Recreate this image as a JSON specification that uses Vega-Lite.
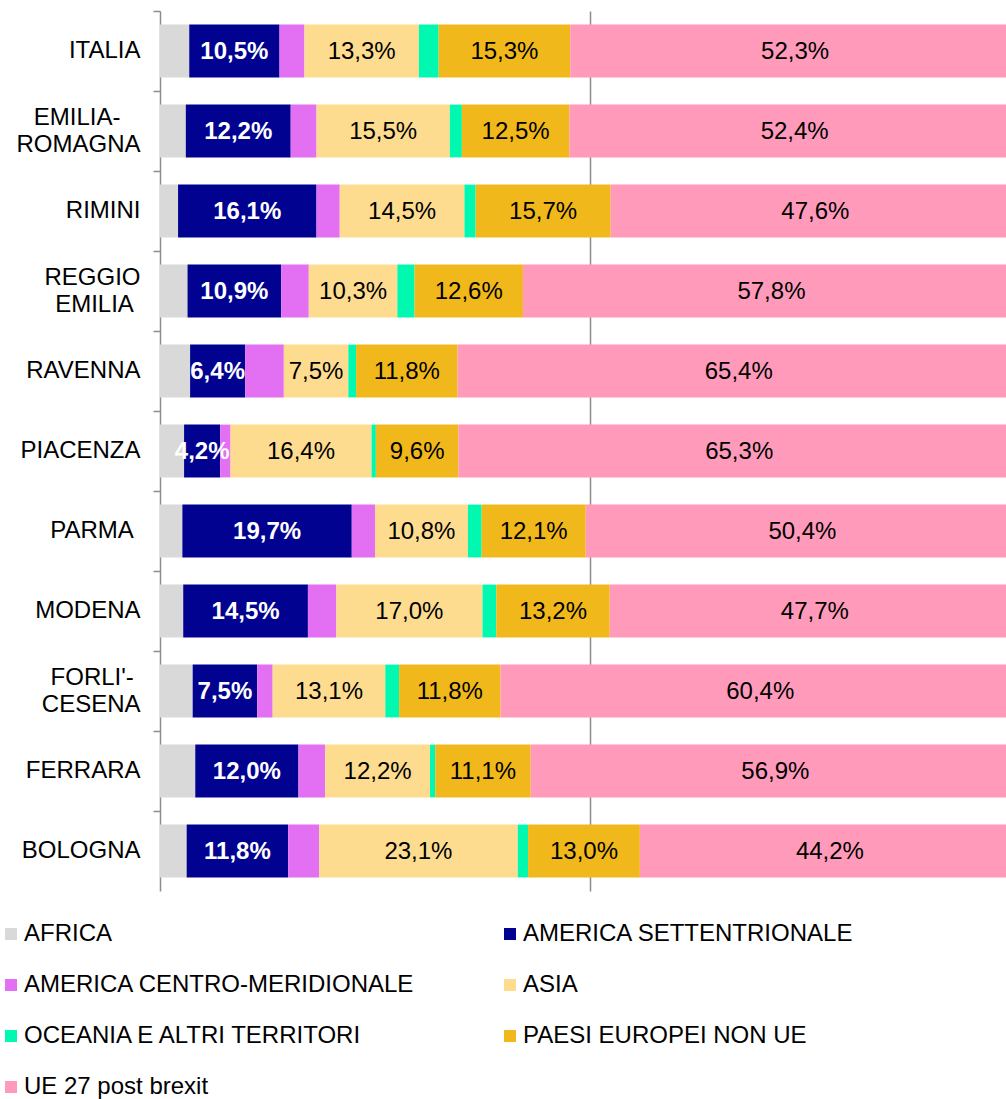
{
  "$schema": "https://vega.github.io/schema/vega-lite/v6.json",
  "autosize": {"type": "none"},
  "padding": {"left": 160, "top": 11, "right": 0, "bottom": 208},
  "width": 846,
  "height": 880,
  "background": "white",
  "config": {
    "font": "Liberation Sans",
    "view": {"stroke": null}
  },
  "data": {
    "values": [
      {"region": "ITALIA", "area": "AFRICA", "pct": 3.4},
      {"region": "ITALIA", "area": "AMERICA SETTENTRIONALE", "pct": 10.5},
      {"region": "ITALIA", "area": "AMERICA CENTRO-MERIDIONALE", "pct": 2.9},
      {"region": "ITALIA", "area": "ASIA", "pct": 13.3},
      {"region": "ITALIA", "area": "OCEANIA E ALTRI TERRITORI", "pct": 2.3},
      {"region": "ITALIA", "area": "PAESI EUROPEI NON UE", "pct": 15.3},
      {"region": "ITALIA", "area": "UE 27 post brexit", "pct": 52.3},

      {"region": "EMILIA-ROMAGNA", "area": "AFRICA", "pct": 3.0},
      {"region": "EMILIA-ROMAGNA", "area": "AMERICA SETTENTRIONALE", "pct": 12.2},
      {"region": "EMILIA-ROMAGNA", "area": "AMERICA CENTRO-MERIDIONALE", "pct": 3.0},
      {"region": "EMILIA-ROMAGNA", "area": "ASIA", "pct": 15.5},
      {"region": "EMILIA-ROMAGNA", "area": "OCEANIA E ALTRI TERRITORI", "pct": 1.4},
      {"region": "EMILIA-ROMAGNA", "area": "PAESI EUROPEI NON UE", "pct": 12.5},
      {"region": "EMILIA-ROMAGNA", "area": "UE 27 post brexit", "pct": 52.4},

      {"region": "RIMINI", "area": "AFRICA", "pct": 2.1},
      {"region": "RIMINI", "area": "AMERICA SETTENTRIONALE", "pct": 16.1},
      {"region": "RIMINI", "area": "AMERICA CENTRO-MERIDIONALE", "pct": 2.7},
      {"region": "RIMINI", "area": "ASIA", "pct": 14.5},
      {"region": "RIMINI", "area": "OCEANIA E ALTRI TERRITORI", "pct": 1.3},
      {"region": "RIMINI", "area": "PAESI EUROPEI NON UE", "pct": 15.7},
      {"region": "RIMINI", "area": "UE 27 post brexit", "pct": 47.6},

      {"region": "REGGIO EMILIA", "area": "AFRICA", "pct": 3.2},
      {"region": "REGGIO EMILIA", "area": "AMERICA SETTENTRIONALE", "pct": 10.9},
      {"region": "REGGIO EMILIA", "area": "AMERICA CENTRO-MERIDIONALE", "pct": 3.2},
      {"region": "REGGIO EMILIA", "area": "ASIA", "pct": 10.3},
      {"region": "REGGIO EMILIA", "area": "OCEANIA E ALTRI TERRITORI", "pct": 2.0},
      {"region": "REGGIO EMILIA", "area": "PAESI EUROPEI NON UE", "pct": 12.6},
      {"region": "REGGIO EMILIA", "area": "UE 27 post brexit", "pct": 57.8},

      {"region": "RAVENNA", "area": "AFRICA", "pct": 3.5},
      {"region": "RAVENNA", "area": "AMERICA SETTENTRIONALE", "pct": 6.4},
      {"region": "RAVENNA", "area": "AMERICA CENTRO-MERIDIONALE", "pct": 4.5},
      {"region": "RAVENNA", "area": "ASIA", "pct": 7.5},
      {"region": "RAVENNA", "area": "OCEANIA E ALTRI TERRITORI", "pct": 0.9},
      {"region": "RAVENNA", "area": "PAESI EUROPEI NON UE", "pct": 11.8},
      {"region": "RAVENNA", "area": "UE 27 post brexit", "pct": 65.4},

      {"region": "PIACENZA", "area": "AFRICA", "pct": 2.8},
      {"region": "PIACENZA", "area": "AMERICA SETTENTRIONALE", "pct": 4.2},
      {"region": "PIACENZA", "area": "AMERICA CENTRO-MERIDIONALE", "pct": 1.2},
      {"region": "PIACENZA", "area": "ASIA", "pct": 16.4},
      {"region": "PIACENZA", "area": "OCEANIA E ALTRI TERRITORI", "pct": 0.5},
      {"region": "PIACENZA", "area": "PAESI EUROPEI NON UE", "pct": 9.6},
      {"region": "PIACENZA", "area": "UE 27 post brexit", "pct": 65.3},

      {"region": "PARMA", "area": "AFRICA", "pct": 2.6},
      {"region": "PARMA", "area": "AMERICA SETTENTRIONALE", "pct": 19.7},
      {"region": "PARMA", "area": "AMERICA CENTRO-MERIDIONALE", "pct": 2.7},
      {"region": "PARMA", "area": "ASIA", "pct": 10.8},
      {"region": "PARMA", "area": "OCEANIA E ALTRI TERRITORI", "pct": 1.6},
      {"region": "PARMA", "area": "PAESI EUROPEI NON UE", "pct": 12.1},
      {"region": "PARMA", "area": "UE 27 post brexit", "pct": 50.4},

      {"region": "MODENA", "area": "AFRICA", "pct": 2.7},
      {"region": "MODENA", "area": "AMERICA SETTENTRIONALE", "pct": 14.5},
      {"region": "MODENA", "area": "AMERICA CENTRO-MERIDIONALE", "pct": 3.3},
      {"region": "MODENA", "area": "ASIA", "pct": 17.0},
      {"region": "MODENA", "area": "OCEANIA E ALTRI TERRITORI", "pct": 1.6},
      {"region": "MODENA", "area": "PAESI EUROPEI NON UE", "pct": 13.2},
      {"region": "MODENA", "area": "UE 27 post brexit", "pct": 47.7},

      {"region": "FORLI'-CESENA", "area": "AFRICA", "pct": 3.8},
      {"region": "FORLI'-CESENA", "area": "AMERICA SETTENTRIONALE", "pct": 7.5},
      {"region": "FORLI'-CESENA", "area": "AMERICA CENTRO-MERIDIONALE", "pct": 1.8},
      {"region": "FORLI'-CESENA", "area": "ASIA", "pct": 13.1},
      {"region": "FORLI'-CESENA", "area": "OCEANIA E ALTRI TERRITORI", "pct": 1.6},
      {"region": "FORLI'-CESENA", "area": "PAESI EUROPEI NON UE", "pct": 11.8},
      {"region": "FORLI'-CESENA", "area": "UE 27 post brexit", "pct": 60.4},

      {"region": "FERRARA", "area": "AFRICA", "pct": 4.1},
      {"region": "FERRARA", "area": "AMERICA SETTENTRIONALE", "pct": 12.0},
      {"region": "FERRARA", "area": "AMERICA CENTRO-MERIDIONALE", "pct": 3.1},
      {"region": "FERRARA", "area": "ASIA", "pct": 12.2},
      {"region": "FERRARA", "area": "OCEANIA E ALTRI TERRITORI", "pct": 0.6},
      {"region": "FERRARA", "area": "PAESI EUROPEI NON UE", "pct": 11.1},
      {"region": "FERRARA", "area": "UE 27 post brexit", "pct": 56.9},

      {"region": "BOLOGNA", "area": "AFRICA", "pct": 3.1},
      {"region": "BOLOGNA", "area": "AMERICA SETTENTRIONALE", "pct": 11.8},
      {"region": "BOLOGNA", "area": "AMERICA CENTRO-MERIDIONALE", "pct": 3.6},
      {"region": "BOLOGNA", "area": "ASIA", "pct": 23.1},
      {"region": "BOLOGNA", "area": "OCEANIA E ALTRI TERRITORI", "pct": 1.2},
      {"region": "BOLOGNA", "area": "PAESI EUROPEI NON UE", "pct": 13.0},
      {"region": "BOLOGNA", "area": "UE 27 post brexit", "pct": 44.2}
    ]
  },
  "transform": [
    {"calculate": "indexof(['AFRICA','AMERICA SETTENTRIONALE','AMERICA CENTRO-MERIDIONALE','ASIA','OCEANIA E ALTRI TERRITORI','PAESI EUROPEI NON UE','UE 27 post brexit'], datum.area)", "as": "ord"},
    {"stack": "pct", "groupby": ["region"], "sort": [{"field": "ord", "order": "ascending"}], "as": ["x0", "x1"]},
    {"calculate": "(datum.x0 + datum.x1) / 2", "as": "mid"},
    {"calculate": "replace(format(datum.pct, '.1f'), '.', ',') + '%'", "as": "lbl"}
  ],
  "encoding": {
    "y": {
      "field": "region",
      "type": "nominal",
      "sort": null,
      "scale": {"paddingInner": 0.34, "paddingOuter": 0.17},
      "axis": {
        "title": null,
        "domainColor": "#8c8c8c",
        "domainWidth": 1.5,
        "tickColor": "#8c8c8c",
        "tickWidth": 1.5,
        "tickSize": 7,
        "bandPosition": -0.2557,
        "labelPadding": 13,
        "labelFontSize": 24,
        "labelColor": "#000000",
        "labelFont": "Liberation Sans",
        "labelLineHeight": 27,
        "labelLimit": 300,
        "labelAlign": "right",
        "labelOffset": {
          "condition": {"test": "datum.value == 'EMILIA-ROMAGNA' || datum.value == 'REGGIO EMILIA' || indexof(datum.value, 'FORLI') == 0", "value": -13},
          "value": 0
        },
        "labelExpr": "datum.value == 'EMILIA-ROMAGNA' ? ['EMILIA-\u00a0\u00a0\u00a0\u200b', 'ROMAGNA'] : datum.value == 'REGGIO EMILIA' ? ['REGGIO', 'EMILIA\u00a0\u200b'] : indexof(datum.value, 'FORLI') == 0 ? [\"FORLI'-\u00a0\u200b\", 'CESENA'] : datum.value == 'PARMA' ? 'PARMA\u00a0\u200b' : datum.value"
      }
    }
  },
  "layer": [
    {
      "mark": {"type": "bar", "clip": true},
      "encoding": {
        "x": {
          "field": "x0",
          "type": "quantitative",
          "scale": {"domain": [0, 98.372], "nice": false, "zero": true},
          "axis": {
            "title": null,
            "values": [50],
            "grid": true,
            "gridColor": "#8c8c8c",
            "gridWidth": 1.5,
            "labels": false,
            "ticks": false,
            "domain": false
          }
        },
        "x2": {"field": "x1"},
        "color": {
          "field": "area",
          "type": "nominal",
          "scale": {
            "domain": ["AFRICA", "AMERICA SETTENTRIONALE", "AMERICA CENTRO-MERIDIONALE", "ASIA", "OCEANIA E ALTRI TERRITORI", "PAESI EUROPEI NON UE", "UE 27 post brexit"],
            "range": ["#D9D9D9", "#020290", "#E36FF3", "#FDDC8F", "#00F8B0", "#F1B81B", "#FF9ABB"]
          },
          "legend": {
            "title": null,
            "orient": "none",
            "legendX": -161,
            "legendY": 911,
            "direction": "horizontal",
            "columns": 2,
            "columnPadding": 83,
            "rowPadding": 27,
            "padding": 0,
            "symbolType": "square",
            "symbolSize": 144,
            "symbolStrokeWidth": 0,
            "labelFontSize": 24,
            "labelFont": "Liberation Sans",
            "labelColor": "#000000",
            "labelOffset": 1,
            "labelLimit": 600
          }
        }
      }
    },
    {
      "transform": [{"filter": "datum.area == 'AMERICA SETTENTRIONALE'"}],
      "mark": {"type": "text", "fontSize": 24, "fontWeight": "bold", "color": "#ffffff", "align": "center", "baseline": "middle", "dy": 1},
      "encoding": {
        "x": {"field": "mid", "type": "quantitative"},
        "text": {"field": "lbl"}
      }
    },
    {
      "transform": [{"filter": "datum.area == 'ASIA' || datum.area == 'PAESI EUROPEI NON UE' || datum.area == 'UE 27 post brexit'"}],
      "mark": {"type": "text", "fontSize": 24, "color": "#000000", "align": "center", "baseline": "middle", "dy": 1},
      "encoding": {
        "x": {"field": "mid", "type": "quantitative"},
        "text": {"field": "lbl"}
      }
    }
  ]
}
